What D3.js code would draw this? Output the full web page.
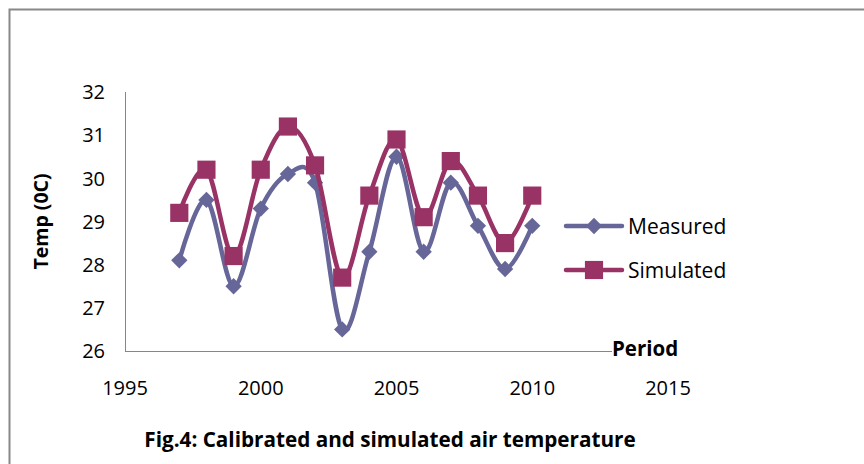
<!DOCTYPE html>
<html lang="en">
<head>
    <meta charset="UTF-8">
    <script src="https://d3js.org/d3.v7.min.js" charset="utf-8"></script>
    <title>Calibrated and simulated air temperature</title>
    <style>
        body { margin: 0; background: #fff; }
        text { font-family: "Open Sans", sans-serif; fill: #000; }
    </style>
</head>
<body>
<div id="vis"></div>
<script>
    // data
    var years = [1997, 1998, 1999, 2000, 2001, 2002, 2003, 2004, 2005, 2006, 2007, 2008, 2009, 2010],
        measured = [28.1, 29.5, 27.5, 29.3, 30.1, 29.9, 26.5, 28.3, 30.5, 28.3, 29.9, 28.9, 27.9, 28.9],
        simulated = [29.2, 30.2, 28.2, 30.2, 31.2, 30.3, 27.7, 29.6, 30.9, 29.1, 30.4, 29.6, 28.5, 29.6],
        xTicks = [1995, 2000, 2005, 2010, 2015],
        yTicks = [26, 27, 28, 29, 30, 31, 32],
        seriesNames = ["Measured", "Simulated"];

    var width = 864, height = 464,
        svg = d3.select("#vis").append("svg").attr("width", width).attr("height", height);

    // outer frame (runs off the right and bottom of the picture)
    svg.append("rect").attr("x", 9.5).attr("y", 9.5).attr("width", 900).attr("height", 500)
        .style("fill", "none").style("stroke", "#888").style("stroke-width", 2);

    var x = d3.scaleLinear().domain([1995, 2015]).range([125, 668]),
        y = d3.scaleLinear().domain([26, 32]).range([351, 92]);

    // axes: plain grey lines, no tick marks
    svg.append("line").attr("x1", x(1995) + 0.5).attr("x2", x(1995) + 0.5)
        .attr("y1", y(32)).attr("y2", y(26)).style("stroke", "#868686");
    svg.append("line").attr("x1", x(1995)).attr("x2", x(2015))
        .attr("y1", y(26) + 0.5).attr("y2", y(26) + 0.5).style("stroke", "#868686");

    svg.append("g").selectAll("text").data(yTicks).enter().append("text")
        .attr("x", 105).attr("y", function(d){ return y(d); })
        .attr("dy", "0.36em").attr("text-anchor", "end")
        .style("font-size", "20px").text(function(d){ return d; });

    svg.append("g").selectAll("text").data(xTicks).enter().append("text")
        .attr("x", function(d){ return x(d); }).attr("y", 388)
        .attr("dy", "0.36em").attr("text-anchor", "middle")
        .style("font-size", "20px").text(function(d){ return d; });

    // "Period" sits on top of the end of the x axis
    var cover = svg.append("rect").style("fill", "#fff");
    var period = svg.append("text").attr("x", 612).attr("y", 356)
        .style("font-size", "20.5px").style("font-weight", "bold").text("Period");
    var bb = period.node().getBBox();
    cover.attr("x", bb.x).attr("y", bb.y).attr("width", bb.width + 60).attr("height", bb.height);

    svg.append("text").attr("transform", "translate(48," + y(29) + ") rotate(-90)")
        .attr("text-anchor", "middle").style("font-size", "19.5px").style("font-weight", "bold")
        .text("Temp (0C)");

    svg.append("text").attr("x", 390).attr("y", 440).attr("dy", "0.36em")
        .attr("text-anchor", "middle").style("font-size", "20.7px").style("font-weight", "bold")
        .text("Fig.4: Calibrated and simulated air temperature");

    var colors = ["#666699", "#993366"],
        sets = [measured, simulated],
        line = d3.line().curve(d3.curveCardinal.tension(0))
            .x(function(d, i){ return x(years[i]); })
            .y(function(d){ return y(d); });

    var diamond = d3.symbol().type(d3.symbolDiamond2).size(170),
        square = d3.symbol().type(d3.symbolSquare).size(330),
        shapes = [diamond, square];

    sets.forEach(function(vals, k) {
        var g = svg.append("g");
        g.append("path").attr("d", line(vals))
            .style("fill", "none").style("stroke", colors[k]).style("stroke-width", 4.5);
        g.selectAll("path.m").data(vals).enter().append("path").attr("class", "m")
            .attr("transform", function(d, i){ return "translate(" + x(years[i]) + "," + y(d) + ")"; })
            .attr("d", shapes[k]).style("fill", colors[k]);
    });

    // legend
    var legY = [226, 270],
        leg = svg.append("g").selectAll("g").data(seriesNames).enter().append("g")
            .attr("transform", function(d, i){ return "translate(0," + legY[i] + ")"; });
    leg.append("line").attr("x1", 566).attr("x2", 622)
        .style("stroke", function(d, i){ return colors[i]; }).style("stroke-width", 4.5)
        .style("stroke-linecap", "round");
    leg.append("path").attr("transform", "translate(594,0)")
        .attr("d", function(d, i){ return shapes[i](); })
        .style("fill", function(d, i){ return colors[i]; });
    leg.append("text").attr("x", 628).attr("dy", "0.36em")
        .style("font-size", "21px").text(function(d){ return d; });
</script>
</body>
</html>
